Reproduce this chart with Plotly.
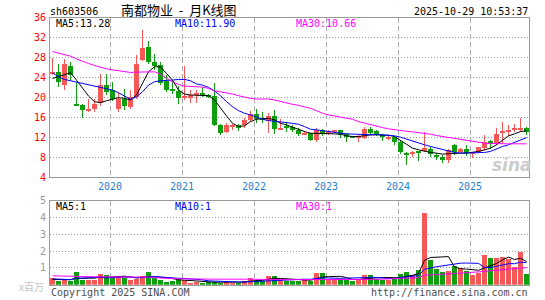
import plotly.graph_objects as go
import numpy as np
import pandas as pd

# ---------------- data ----------------
months = pd.date_range("2019-03-01", periods=80, freq="MS").strftime("%Y-%m").tolist()

opens = [24.8, 25.07, 22.6, 26.27, 18.8, 18.47, 17.33, 17.73, 18.93, 22.47,
         21.47, 17.67, 19.8, 18.13, 20.13, 27.47, 30.27, 27.13, 26.47, 23.33,
         21.8, 21.33, 19.93, 19.93, 20.47, 20.93, 20.47, 20.33, 14.47, 13.13,
         14.13, 14.47, 14.47, 15.47, 16.8, 15.8, 15.33, 16.27, 13.53, 14.27,
         14.13, 13.6, 12.67, 12.8, 11.47, 13.6, 12.93, 13.13, 13.47, 12.67,
         12.13, 11.93, 11.8, 13.67, 13.27, 12.47, 11.8, 12.0, 11.13, 8.93,
         8.67, 9.13, 9.33, 9.67, 8.47, 8.0, 7.47, 10.47, 9.13, 9.67,
         8.8, 9.13, 9.8, 11.27, 10.67, 13.0, 13.13, 13.6, 13.6, 14.0]
highs = [28.0, 26.8, 27.67, 27.07, 23.13, 18.67, 19.67, 19.8, 24.67, 24.67,
         23.13, 21.13, 21.8, 21.47, 28.47, 33.6, 31.47, 28.67, 27.13, 24.47,
         23.33, 22.27, 26.27, 21.47, 21.6, 22.13, 20.8, 22.93, 14.67, 14.93,
         14.8, 14.8, 16.0, 17.33, 17.8, 17.13, 16.93, 17.47, 15.8, 15.13,
         14.47, 13.93, 13.33, 12.93, 14.0, 13.8, 13.47, 13.6, 13.6, 12.8,
         12.27, 12.47, 14.13, 14.13, 13.6, 12.67, 12.47, 12.27, 11.47, 9.13,
         9.33, 9.33, 13.13, 10.13, 8.8, 8.47, 9.6, 10.67, 9.93, 10.47,
         8.93, 10.13, 12.47, 11.47, 14.0, 15.13, 14.47, 14.8, 16.0, 14.13]
lows = [24.6, 22.1, 21.6, 23.47, 18.3, 16.0, 17.13, 17.13, 18.27, 20.47,
        19.27, 17.13, 17.6, 17.8, 19.8, 27.27, 26.8, 25.6, 22.47, 21.13,
        20.8, 18.67, 19.47, 18.93, 18.93, 20.13, 19.93, 14.33, 12.47, 12.8,
        13.47, 13.33, 14.0, 15.13, 14.93, 14.93, 12.93, 12.6, 13.47, 13.13,
        13.13, 12.27, 12.47, 11.33, 11.13, 12.27, 12.47, 12.93, 11.8, 11.13,
        11.93, 11.13, 11.6, 12.47, 12.27, 11.33, 11.47, 10.47, 8.67, 6.47,
        8.0, 7.33, 9.13, 8.0, 7.47, 6.8, 6.93, 8.4, 8.8, 8.27,
        7.8, 8.93, 9.33, 9.6, 10.47, 10.8, 12.27, 13.13, 13.13, 12.47]
closes = [25.1, 23.13, 26.67, 24.47, 18.5, 17.47, 17.8, 18.67, 22.47, 21.13,
          19.8, 19.8, 18.27, 20.13, 26.67, 30.0, 27.13, 26.27, 22.93, 21.47,
          21.47, 19.93, 20.27, 20.6, 20.93, 20.47, 20.13, 14.47, 12.93, 14.47,
          14.47, 14.0, 15.6, 16.8, 15.8, 15.6, 16.4, 13.67, 13.93, 14.0,
          13.47, 12.67, 12.93, 11.47, 13.6, 12.67, 13.27, 13.47, 12.47, 12.27,
          12.0, 12.13, 13.67, 12.93, 12.67, 12.0, 12.13, 11.13, 9.13, 8.67,
          9.13, 9.0, 9.8, 8.67, 8.0, 7.6, 9.47, 9.13, 9.67, 8.8,
          8.93, 10.0, 11.13, 10.8, 12.67, 13.13, 13.33, 13.8, 13.8, 13.13]

ma5 = [23.8, 24.13, 24.6, 24.93, 23.47, 21.8, 20.27, 19.13, 18.93, 19.33,
       19.67, 19.93, 19.8, 19.47, 20.47, 22.8, 25.13, 26.13, 26.13, 24.8,
       23.47, 21.47, 20.67, 20.47, 20.47, 20.47, 20.33, 19.47, 17.8, 16.27,
       14.8, 14.13, 14.27, 15.13, 15.6, 15.67, 15.8, 15.47, 14.8, 14.47,
       14.0, 13.47, 13.13, 12.8, 12.8, 12.8, 12.67, 12.67, 12.6, 12.27,
       12.13, 12.13, 12.3, 12.47, 12.47, 12.47, 12.4, 12.13, 11.33, 10.47,
       9.8, 9.47, 9.13, 8.93, 8.8, 8.6, 8.67, 8.8, 8.8, 8.8,
       8.93, 9.13, 9.47, 9.8, 10.47, 11.33, 12.27, 12.67, 13.13, 13.28]
ma10 = [24.93, 24.13, 23.6, 23.33, 23.13, 22.8, 22.6, 22.27, 22.0, 21.8,
        21.47, 20.93, 20.33, 19.6, 20.13, 21.13, 22.47, 23.13, 23.33, 23.33,
        23.47, 23.6, 23.6, 23.33, 22.7, 22.47, 22.0, 21.27, 20.33, 19.13,
        18.13, 17.33, 16.8, 16.47, 16.0, 15.6, 15.33, 15.13, 15.07, 14.93,
        14.8, 14.6, 14.13, 13.6, 13.47, 13.27, 13.07, 12.93, 12.8, 12.67,
        12.6, 12.47, 12.47, 12.47, 12.53, 12.47, 12.4, 12.27, 12.0, 11.6,
        11.13, 10.8, 10.47, 10.13, 9.8, 9.47, 9.13, 8.93, 8.8, 8.8,
        8.8, 8.87, 8.93, 9.13, 9.67, 10.13, 10.47, 10.93, 11.47, 11.9]
ma30 = [29.2, 28.93, 28.67, 28.27, 27.73, 27.2, 26.8, 26.4, 26.0, 25.73,
        25.53, 25.33, 25.07, 25.0, 25.07, 25.13, 25.2, 25.13, 24.67, 23.8,
        23.13, 22.6, 22.27, 22.13, 22.13, 22.07, 21.8, 21.33, 21.13, 20.93,
        20.67, 20.33, 20.0, 19.8, 19.67, 19.67, 19.67, 19.47, 19.13, 18.8,
        18.6, 18.4, 18.13, 17.8, 17.33, 16.8, 16.47, 16.27, 16.0, 15.8,
        15.6, 15.13, 14.8, 14.47, 14.13, 13.93, 13.67, 13.47, 13.33, 13.2,
        13.07, 12.93, 12.8, 12.6, 12.33, 12.13, 11.87, 11.67, 11.47, 11.33,
        11.13, 11.0, 10.8, 10.73, 10.67, 10.67, 10.67, 10.67, 10.73, 10.66]

volumes = [0.41, 0.24, 0.31, 0.24, 0.8, 0.27, 0.31, 0.31, 0.63, 0.57,
           0.47, 0.47, 0.43, 0.31, 0.37, 0.51, 0.75, 0.41, 0.27, 0.18,
           0.22, 0.37, 0.31, 0.12, 0.18, 0.12, 0.16, 0.18, 0.12, 0.18,
           0.12, 0.14, 0.24, 0.39, 0.27, 0.24, 0.51, 0.51, 0.31, 0.24,
           0.24, 0.24, 0.37, 0.24, 0.73, 0.73, 0.35, 0.35, 0.35, 0.31,
           0.22, 0.31, 0.57, 0.61, 0.35, 0.31, 0.31, 0.39, 0.67, 0.8,
           0.61, 0.9, 4.27, 1.51, 0.96, 0.75, 0.86, 1.16, 1.0, 0.86,
           0.57, 0.71, 1.8, 1.61, 1.59, 1.69, 1.53, 1.1, 1.94, 0.63]
vma5 = [0.31, 0.30, 0.27, 0.30, 0.40, 0.37, 0.39, 0.39, 0.46, 0.42,
        0.46, 0.49, 0.51, 0.45, 0.41, 0.42, 0.47, 0.47, 0.46, 0.42,
        0.37, 0.29, 0.27, 0.24, 0.24, 0.22, 0.18, 0.15, 0.15, 0.15,
        0.15, 0.15, 0.16, 0.21, 0.23, 0.26, 0.33, 0.38, 0.37, 0.36,
        0.36, 0.31, 0.28, 0.27, 0.36, 0.46, 0.48, 0.48, 0.50, 0.42,
        0.32, 0.31, 0.35, 0.40, 0.41, 0.43, 0.43, 0.39, 0.41, 0.50,
        0.56, 0.67, 1.45, 1.62, 1.65, 1.68, 1.67, 1.05, 0.95, 0.93,
        0.89, 0.86, 0.99, 1.11, 1.26, 1.48, 1.64, 1.50, 1.57, 1.38]
vma10 = [0.35, 0.33, 0.28, 0.30, 0.38, 0.40, 0.40, 0.42, 0.45, 0.41,
         0.42, 0.44, 0.45, 0.46, 0.41, 0.44, 0.48, 0.49, 0.46, 0.42,
         0.39, 0.38, 0.37, 0.35, 0.33, 0.29, 0.23, 0.21, 0.20, 0.20,
         0.19, 0.16, 0.16, 0.18, 0.19, 0.20, 0.24, 0.27, 0.29, 0.30,
         0.31, 0.32, 0.33, 0.32, 0.36, 0.41, 0.40, 0.38, 0.38, 0.39,
         0.39, 0.40, 0.42, 0.45, 0.42, 0.37, 0.37, 0.37, 0.41, 0.45,
         0.49, 0.55, 0.92, 1.01, 1.07, 1.12, 1.17, 1.25, 1.28, 1.29,
         1.28, 1.27, 1.02, 1.03, 1.09, 1.19, 1.25, 1.25, 1.34, 1.32]
vma30 = [0.53, 0.52, 0.48, 0.47, 0.47, 0.47, 0.47, 0.47, 0.47, 0.47,
         0.47, 0.47, 0.47, 0.47, 0.47, 0.46, 0.45, 0.42, 0.39, 0.37,
         0.36, 0.35, 0.34, 0.33, 0.33, 0.33, 0.33, 0.33, 0.33, 0.34,
         0.33, 0.33, 0.33, 0.33, 0.31, 0.31, 0.32, 0.33, 0.31, 0.30,
         0.30, 0.29, 0.29, 0.28, 0.30, 0.30, 0.29, 0.29, 0.29, 0.30,
         0.30, 0.29, 0.30, 0.32, 0.32, 0.33, 0.34, 0.34, 0.36, 0.38,
         0.40, 0.42, 0.56, 0.59, 0.62, 0.63, 0.65, 0.67, 0.69, 0.71,
         0.72, 0.74, 0.79, 0.83, 0.86, 0.89, 0.93, 0.96, 1.01, 1.02]

price_ticks = [36, 32, 28, 24, 20, 16, 12, 8, 4]
vol_ticks = [5, 4, 3, 2, 1]

# ---------------- layout helpers ----------------
W, H = 545, 300
X0, X1 = 50.0, 529.3
STEP = 6.0
C0 = 52.5  # pixel of first candle centre


def px(x):
    return x / W


def py(y):
    return 1 - y / H


n = len(months)
xi = np.arange(n)
xrange_ = [(X0 - C0) / STEP, (X1 - C0) / STEP]
year_pos = [i - 0.4 for i, m in enumerate(months) if m.endswith("-01")]
year_txt = [m[:4] for m in months if m.endswith("-01")]

RED = "#f65858"
GREEN = "#0d9f0d"
up = [c >= o for o, c in zip(opens, closes)]
cols = [RED if u else GREEN for u in up]

fig = go.Figure()

# wicks
fig.add_trace(go.Bar(
    x=xi, base=lows, y=[h - l for h, l in zip(highs, lows)], width=1 / STEP,
    marker=dict(color=cols, line=dict(width=0)), xaxis="x", yaxis="y"))
# bodies
fig.add_trace(go.Bar(
    x=xi, base=[min(o, c) for o, c in zip(opens, closes)],
    y=[max(abs(c - o), 0.2) for o, c in zip(opens, closes)], width=0.8,
    marker=dict(color=cols, line=dict(width=0)), xaxis="x", yaxis="y"))
# price MAs
for arr, colr in [(ma5, "#000000"), (ma10, "#0000ff"), (ma30, "#ff00ff")]:
    fig.add_trace(go.Scatter(x=xi, y=arr, mode="lines",
                             line=dict(color=colr, width=1),
                             xaxis="x", yaxis="y"))
# volume
fig.add_trace(go.Bar(x=xi, y=volumes, width=0.84,
                     marker=dict(color=cols, line=dict(width=0)),
                     xaxis="x2", yaxis="y2"))
for arr, colr in [(vma5, "#000000"), (vma10, "#0000ff"), (vma30, "#ff00ff")]:
    fig.add_trace(go.Scatter(x=xi, y=arr, mode="lines",
                             line=dict(color=colr, width=1),
                             xaxis="x2", yaxis="y2"))

axis_common = dict(showline=True, linecolor="#9a9a9a", linewidth=1, mirror=True,
                   zeroline=False, ticks="", showticklabels=False, fixedrange=True)

fig.update_layout(
    width=W, height=H, margin=dict(l=0, r=0, t=0, b=0),
    paper_bgcolor="white", plot_bgcolor="white",
    showlegend=False, hovermode=False, barmode="overlay", bargap=0,
    xaxis=dict(domain=[px(X0), px(X1)], range=xrange_, anchor="y",
               tickmode="array", tickvals=year_pos, showgrid=True,
               gridcolor="#aaaaaa", griddash="5px,3px", gridwidth=1, **axis_common),
    yaxis=dict(domain=[py(177.0), py(17.7)], range=[4, 36], anchor="x",
               tickmode="array", tickvals=price_ticks[1:-1], showgrid=True,
               gridcolor="#999999", griddash="1px,2px", gridwidth=1, **axis_common),
    xaxis2=dict(domain=[px(X0), px(X1)], range=xrange_, anchor="y2",
                tickmode="array", tickvals=year_pos, showgrid=True,
                gridcolor="#aaaaaa", griddash="5px,3px", gridwidth=1, **axis_common),
    yaxis2=dict(domain=[py(284.7), py(200.7)], range=[0, 5], anchor="x2",
                tickmode="array", tickvals=vol_ticks[1:], showgrid=True,
                gridcolor="#999999", griddash="1px,2px", gridwidth=1, **axis_common),
)

MONO = "DejaVu Sans Mono"
CJK = "Noto Sans CJK SC"
ann = []


def text(x, y, s, color="#000000", size=10, xanchor="left", family=MONO,
         xref="paper", yref="paper", **kw):
    ann.append(dict(x=x, y=y, text=s, xref=xref, yref=yref, showarrow=False,
                    xanchor=xanchor, yanchor="middle",
                    font=dict(family=family, size=size, color=color, **kw),
                    borderpad=0))


# header
text(px(49.3), py(11.5), "sh603506")
text(px(178.5), py(10), "南都物业\u00a0\u00a0-\u00a0\u00a0月K线图", size=13,
     xanchor="center", family=CJK)
text(px(529.3), py(11.5), "2025-10-29 10:53:37", xanchor="right")

# main y tick labels
for t in price_ticks:
    text(px(47), t, str(t), color="#ff0000", xanchor="right", yref="y")
# volume y tick labels
for t in vol_ticks:
    text(px(47), t, str(t), color="#9a9a9a", xanchor="right", yref="y2")
text(px(31), py(286), "x百万", color="#c4c4c4", size=10, xanchor="center", family=CJK)

# MA labels
text(px(55), py(24), f"MA5:{ma5[-1]:.2f}", color="#000000")
text(px(174.3), py(24), f"MA10:{ma10[-1]:.2f}", color="#0000ff")
text(px(295), py(24), f"MA30:{ma30[-1]:.2f}", color="#ff00ff")
text(px(55), py(206), f"MA5:{vma5[-1]:.0f}", color="#000000")
text(px(174.3), py(206), f"MA10:{vma10[-1]:.0f}", color="#0000ff")
text(px(295), py(206), f"MA30:{vma30[-1]:.0f}", color="#ff00ff")

# year labels
for p_, t in zip(year_pos, year_txt):
    text(p_, py(186.5), t, color="#1a84cf", xanchor="center", xref="x")

# footer
text(px(50), py(292.7), "Copyright 2025 SINA.COM", color="#4d4d4d")
text(px(529.3), py(292.7), "http://finance.sina.com.cn", color="#4d4d4d", xanchor="right")

# watermark
text(px(512), py(165), "sina", color="#cccccc", size=17, xanchor="center",
     family="DejaVu Sans", style="italic", weight="bold")

fig.update_layout(annotations=ann)
fig.write_html("out.html")
